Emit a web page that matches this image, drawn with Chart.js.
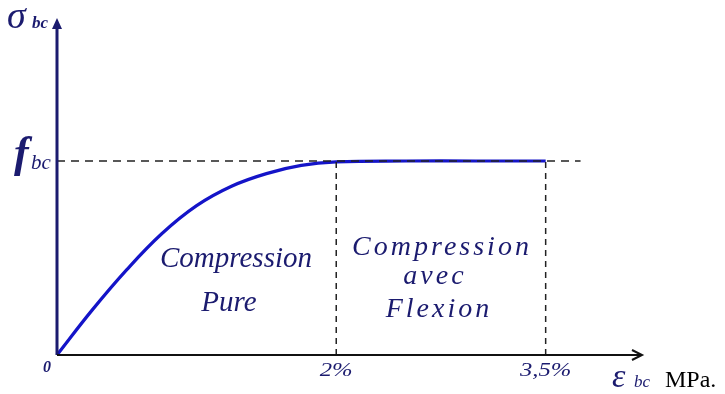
<!DOCTYPE html>
<html><head><meta charset="utf-8">
<script src="https://cdn.jsdelivr.net/npm/chart.js@4"></script>
<style>html,body{margin:0;padding:0;background:#fff}#wrap{width:725px;height:394px;position:relative}</style>
</head><body><div id="wrap"><canvas id="c" width="725" height="394"></canvas></div>
<script>
// strain (per mille) and normalized stress (fraction of fbc)
const strain = [0, 0.25, 0.5, 0.75, 1.0, 1.25, 1.5, 1.75, 2.0, 2.5, 3.0, 3.5];
const stress = [0, 0.23, 0.44, 0.625, 0.77, 0.87, 0.935, 0.977, 0.995, 1.0, 1.0, 1.0];
const tickValues = [2, 3.5];
const tickLabels = ['2%', '3,5%'];
const fbcLevel = 1;
const dashEnd = 3.75;
const xMax = 4.19, yMax = 1.737;

const NAVY = '#1b1b6f';
const BLUE = '#1414c8';

const curve = strain.map((x, i) => ({x, y: stress[i]}));

const overlay = {
  id: 'overlay',
  afterDatasetsDraw(chart) {
    const {ctx, chartArea: a, scales: {x, y}} = chart;
    ctx.save();
    const y0 = y.getPixelForValue(0);
    // y axis
    ctx.strokeStyle = NAVY; ctx.fillStyle = NAVY; ctx.lineWidth = 3;
    ctx.beginPath(); ctx.moveTo(a.left, y0); ctx.lineTo(a.left, a.top + 8); ctx.stroke();
    ctx.beginPath(); ctx.moveTo(a.left, a.top); ctx.lineTo(a.left - 5, a.top + 11); ctx.lineTo(a.left + 5, a.top + 11); ctx.closePath(); ctx.fill();
    // x axis
    ctx.strokeStyle = '#111'; ctx.fillStyle = '#111'; ctx.lineWidth = 2;
    ctx.beginPath(); ctx.moveTo(a.left, y0); ctx.lineTo(a.right - 2, y0); ctx.stroke();
    ctx.beginPath(); ctx.moveTo(a.right - 10, y0 - 5); ctx.lineTo(a.right, y0); ctx.lineTo(a.right - 10, y0 + 5); ctx.stroke();

    // labels
    ctx.fillStyle = NAVY;
    ctx.textBaseline = 'alphabetic';
    ctx.textAlign = 'left';
    ctx.font = 'italic 38px "Liberation Serif"';
    ctx.fillText('σ', 7, 28);
    ctx.font = 'italic bold 17px "Liberation Serif"';
    ctx.fillText('bc', 32, 28);
    const yf = y.getPixelForValue(fbcLevel);
    ctx.font = 'italic bold 44px "Liberation Serif"';
    ctx.fillText('f', 14, yf + 6);
    ctx.font = 'italic 21px "Liberation Serif"';
    ctx.fillText('bc', 31, yf + 8);
    ctx.font = 'italic bold 16px "Liberation Serif"';
    ctx.textAlign = 'center';
    ctx.fillText('0', 47, y0 + 17);
    ctx.font = 'italic 19px "Liberation Serif"';
    tickValues.forEach((v, i) => {
      ctx.save();
      const px = x.getPixelForValue(v);
      ctx.translate(px, y0 + 21);
      ctx.scale(1.3, 1);
      ctx.fillText(tickLabels[i], 0, 0);
      ctx.restore();
    });
    ctx.textAlign = 'left';
    ctx.font = 'italic 34px "Liberation Serif"';
    ctx.fillText('ε', 612, 387);
    ctx.font = 'italic 17px "Liberation Serif"';
    ctx.fillText('bc', 634, 387);
    ctx.fillStyle = '#000';
    ctx.font = '24px "Liberation Serif"';
    ctx.fillText('MPa.', 665, 387);

    // region texts
    ctx.fillStyle = NAVY;
    ctx.textAlign = 'center';
    ctx.font = 'italic 29px "Liberation Serif"';
    ctx.fillText('Compression', 236, 267);
    ctx.fillText('Pure', 229, 311);
    ctx.font = 'italic 28px "Liberation Serif"';
    ctx.letterSpacing = '3px';
    ctx.fillText('Compression', 442, 255);
    ctx.fillText('avec', 435, 284);
    ctx.fillText('Flexion', 439, 317);
    ctx.restore();
  }
};

const dashStyle = {borderColor: '#222', borderWidth: 1.5, borderDash: [8, 6], pointRadius: 0, fill: false, tension: 0};

new Chart(document.getElementById('c'), {
  type: 'scatter',
  data: {
    datasets: [
      Object.assign({data: [{x: 0, y: fbcLevel}, {x: dashEnd, y: fbcLevel}], showLine: true}, dashStyle),
      Object.assign({data: [{x: tickValues[0], y: 0}, {x: tickValues[0], y: fbcLevel}], showLine: true}, dashStyle, {borderDash: [6, 5]}),
      Object.assign({data: [{x: tickValues[1], y: 0}, {x: tickValues[1], y: fbcLevel}], showLine: true}, dashStyle, {borderDash: [6, 5]}),
      {data: curve, showLine: true, borderColor: BLUE, borderWidth: 3.2, pointRadius: 0, tension: 0.4, fill: false}
    ]
  },
  options: {
    responsive: false, animation: false, devicePixelRatio: 1,
    layout: {padding: {left: 57, right: 83, top: 18, bottom: 39}},
    plugins: {legend: {display: false}, tooltip: {enabled: false}},
    clip: false,
    scales: {
      x: {type: 'linear', min: 0, max: xMax, display: false},
      y: {type: 'linear', min: 0, max: yMax, display: false}
    }
  },
  plugins: [overlay]
});
</script></body></html>
